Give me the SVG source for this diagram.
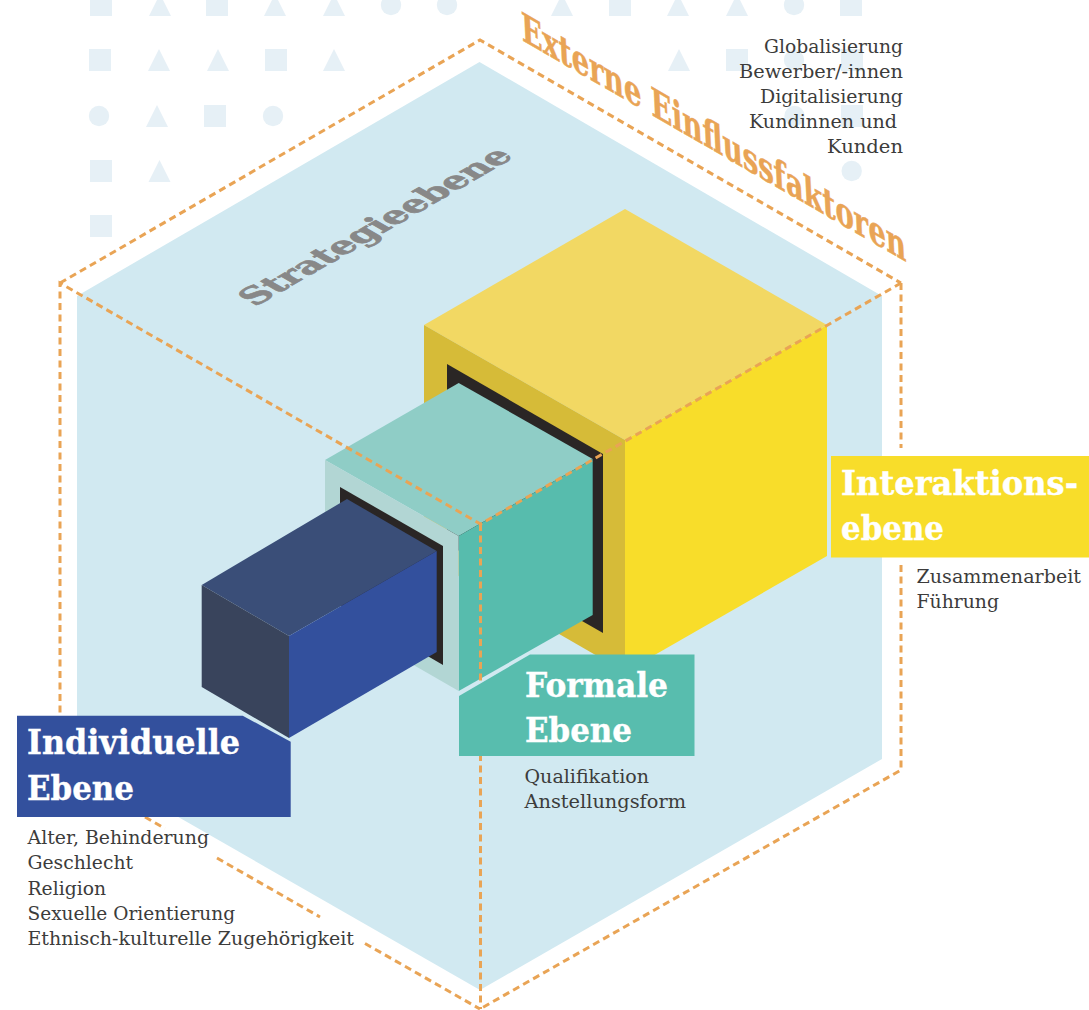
<svg xmlns="http://www.w3.org/2000/svg" width="1089" height="1010" viewBox="0 0 1089 1010">
<style>
.bg{fill:#E6F0F6}
.dash{fill:none;stroke:#E9A455;stroke-width:3;stroke-dasharray:7 4.5}
text{font-family:"DejaVu Serif","Liberation Serif",serif}
.h{font-weight:700;font-size:33px;fill:#fff;stroke:#fff;stroke-width:.4}
.b{font-size:19px;fill:#3C3C3B}
</style>
<rect width="1089" height="1010" fill="#fff"/>
<g id="pattern">
<defs>
<rect id="s" width="22" height="22" class="bg"/>
<path id="t" d="M0 22L11 0L22 22Z" class="bg"/>
<circle id="c" r="10.2" class="bg"/>
</defs>
<use href="#s" x="90" y="-6"/><use href="#t" x="149" y="-6"/><use href="#s" x="206" y="-6"/><use href="#t" x="264" y="-6"/><use href="#t" x="323" y="-6"/><use href="#c" x="391" y="5"/><use href="#c" x="447" y="5"/>
<use href="#t" x="551" y="-6"/><use href="#s" x="609" y="-6"/><use href="#t" x="667" y="-6"/><use href="#t" x="726" y="-6"/><use href="#c" x="794" y="5"/><use href="#s" x="840" y="-6"/>
<use href="#s" x="89" y="49"/><use href="#t" x="148" y="49"/><use href="#t" x="207" y="49"/><use href="#s" x="265" y="49"/><use href="#t" x="323" y="49"/>
<use href="#t" x="668" y="49"/><use href="#s" x="726" y="49"/><use href="#c" x="794" y="60"/><use href="#s" x="841" y="49"/>
<use href="#c" x="99" y="116"/><use href="#t" x="146" y="105"/><use href="#s" x="204" y="105"/><use href="#c" x="273" y="116"/>
<use href="#c" x="794.5" y="116"/><use href="#s" x="841" y="105"/>
<use href="#s" x="90" y="160"/><use href="#t" x="148.500" y="160"/><use href="#c" x="851.700" y="171"/>
<use href="#s" x="90" y="215"/>
</g>
<g id="strategieebene">
<polygon points="479.500,62 882,296 882,759 480,990 77,759 77,296" fill="#D1E9F1"/>
<text transform="matrix(.866,-.5,.866,.5,255,307)" font-size="33" font-weight="700" fill="#888888" stroke="#888888" stroke-width=".9" textLength="300" lengthAdjust="spacingAndGlyphs">Strategieebene</text>
</g>
<g id="interaktionsebene-cube">
<polygon points="625,209 827,325 625,440 424,325" fill="#F2D863"/>
<polygon points="625,440 827,325 827,556 625,672" fill="#F8DD2A"/>
<polygon points="424,325 625,440 625,672 424,556" fill="#D6BB38"/>
<polygon points="447,364 603,454 603,633 447,544" fill="#2A2625"/>
</g>
<g id="formale-cube">
<polygon points="458.700,383 592.700,459 458.700,536 325,460" fill="#8FCDC6"/>
<polygon points="458.700,536 592.700,459 592.700,615 458.700,691" fill="#57BCAD"/>
<polygon points="325,460 458.700,536 458.700,691 325,614" fill="#B2D6D4"/>
<polygon points="340,487 443,546 443,665 340,605" fill="#2A2625"/>
</g>
<g id="individuelle-cube">
<polygon points="347,499 436.700,551 289,636 201.700,585" fill="#3A4E78"/>
<polygon points="201.700,585 289,636 289,738 201.700,687" fill="#39445C"/>
<polygon points="289,636 436.700,551 436.700,652 289,738" fill="#33509D"/>
</g>
<g id="connectors">
<polyline class="dash" points="60,283 480,40 901,283"/>
<polyline class="dash" points="60,770 60,283 480.500,524"/>
<line class="dash" x1="901" y1="283" x2="480.500" y2="524"/>
<line class="dash" x1="901" y1="283" x2="901" y2="448"/>
<polyline class="dash" points="901,565 901,770 480,1009"/>
<line class="dash" x1="480.500" y1="524" x2="480.500" y2="1009"/>
<line class="dash" x1="145" y1="817" x2="165" y2="828.500"/>
<line class="dash" x1="217" y1="858" x2="320" y2="917"/>
<line class="dash" x1="365" y1="943.500" x2="480" y2="1009"/>
</g>
<g id="externe-einflussfaktoren">
<text transform="matrix(.866,.5,.05,1,522,40)" font-size="40" font-weight="700" fill="#E9A455" stroke="#E9A455" stroke-width=".5" textLength="444" lengthAdjust="spacingAndGlyphs">Externe Einflussfaktoren</text>
<g class="b" text-anchor="end">
<text x="903" y="52.500" class="b" textLength="139" lengthAdjust="spacingAndGlyphs">Globalisierung</text>
<text x="903" y="78" class="b" textLength="164" lengthAdjust="spacingAndGlyphs">Bewerber/-innen</text>
<text x="903" y="103" class="b" textLength="143" lengthAdjust="spacingAndGlyphs">Digitalisierung</text>
<text x="897" y="128" class="b" textLength="148" lengthAdjust="spacingAndGlyphs">Kundinnen und</text>
<text x="903" y="153" class="b" textLength="76" lengthAdjust="spacingAndGlyphs">Kunden</text>
</g>
</g>
<g id="individuelle-ebene">
<polygon points="17,715.700 242.700,715.700 290.700,741.700 290.700,817 17,817" fill="#33509D"/>
<text x="27" y="754" class="h" textLength="213" lengthAdjust="spacingAndGlyphs">Individuelle</text>
<text x="27" y="799.500" class="h" textLength="107" lengthAdjust="spacingAndGlyphs">Ebene</text>
<text x="27.500" y="844" class="b" textLength="181.500" lengthAdjust="spacingAndGlyphs">Alter, Behinderung</text>
<text x="27.500" y="869" class="b" textLength="105.500" lengthAdjust="spacingAndGlyphs">Geschlecht</text>
<text x="27.500" y="894.500" class="b" textLength="78.500" lengthAdjust="spacingAndGlyphs">Religion</text>
<text x="27.500" y="919.500" class="b" textLength="207.500" lengthAdjust="spacingAndGlyphs">Sexuelle Orientierung</text>
<text x="27.500" y="944.500" class="b" textLength="326.500" lengthAdjust="spacingAndGlyphs">Ethnisch-kulturelle Zugehörigkeit</text>
</g>
<g id="formale-ebene">
<polygon points="459,696 530,654.500 694.500,654.500 694.500,756 459,756" fill="#58BDAE"/>
<text x="525" y="697" class="h" textLength="143" lengthAdjust="spacingAndGlyphs">Formale</text>
<text x="525" y="742" class="h" textLength="107" lengthAdjust="spacingAndGlyphs">Ebene</text>
<text x="524.500" y="783" class="b" textLength="124.500" lengthAdjust="spacingAndGlyphs">Qualifikation</text>
<text x="524.500" y="808" class="b" textLength="161.500" lengthAdjust="spacingAndGlyphs">Anstellungsform</text>
</g>
<g id="interaktions-ebene">
<rect x="831" y="456" width="258" height="101.500" fill="#F8DD2A"/>
<text x="841" y="495" class="h" textLength="237" lengthAdjust="spacingAndGlyphs">Interaktions-</text>
<text x="841" y="540" class="h" textLength="103" lengthAdjust="spacingAndGlyphs">ebene</text>
<text x="916.500" y="583" class="b" textLength="164.500" lengthAdjust="spacingAndGlyphs">Zusammenarbeit</text>
<text x="916.500" y="608" class="b" textLength="82.500" lengthAdjust="spacingAndGlyphs">Führung</text>
</g>
</svg>
